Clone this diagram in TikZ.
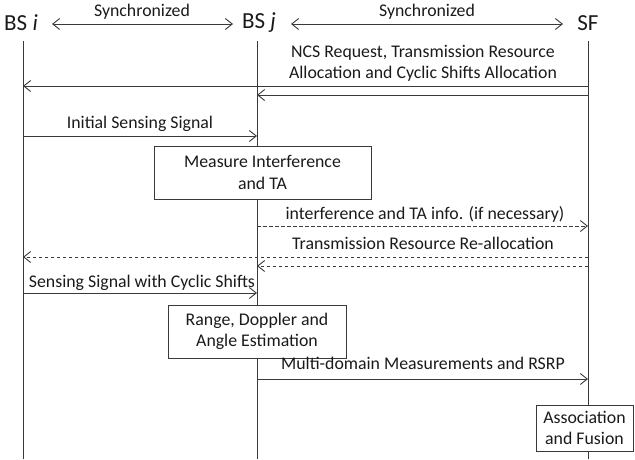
\documentclass[tikz,border=0pt]{standalone}
\usepackage{fontspec}
\setmainfont{Carlito}
\usetikzlibrary{arrows.meta}
\definecolor{ln}{HTML}{3A3A3A}
\definecolor{tx}{HTML}{1A1A1A}
\tikzset{
  life/.style={draw=ln, line width=0.9pt},
  msg/.style={draw=ln, line width=0.9pt, -{Straight Barb[length=7pt,width=11pt,line width=0.9pt]}},
  dmsg/.style={msg, dash pattern=on 3.5pt off 2.5pt},
  sync/.style={draw=ln, line width=0.9pt, {Straight Barb[length=7pt,width=11pt,line width=0.9pt]}-{Straight Barb[length=7pt,width=11pt,line width=0.9pt]}},
  lbl/.style={text=tx, font=\fontsize{17.8}{21.5}\selectfont, inner sep=0pt, align=center},
  head/.style={text=tx, font=\fontsize{23}{26}\selectfont, inner sep=0pt},
  procbox/.style={draw=ln, line width=0.9pt, fill=white, text=tx, font=\fontsize{17.8}{21.5}\selectfont, align=center, inner sep=0pt}
}
\begin{document}
\begin{tikzpicture}[x=1pt,y=-1pt]
\useasboundingbox (0,0) rectangle (635,459);
% headers
\node[head] (bsi) at (21,23) {BS \textit{i}};
\node[head] (bsj) at (259,23) {BS \textit{j}};
\node[head] (sf) at (588,23) {SF};
% lifelines
\coordinate (it) at (23,41); \coordinate (ib) at (23,459);
\coordinate (jt) at (257,41); \coordinate (jb) at (257,459);
\coordinate (st) at (588,41); \coordinate (sb) at (588,459);
\draw[life] (it) -- (ib);
\draw[life] (jt) -- (jb);
\draw[life] (st) -- (sb);
% synchronized
\coordinate (sa1) at (52,24); \coordinate (sa2) at (233,24);
\coordinate (sb1) at (291,24); \coordinate (sb2) at (563,24);
\draw[sync] (sa1) -- (sa2);
\draw[sync] (sb1) -- (sb2);
\node[lbl] (syn1) at (142,12) {Synchronized};
\node[lbl] (syn2) at (427,12) {Synchronized};
% NCS request
\node[lbl] (ncs) at (423,63.5) {NCS Request, Transmission Resource\\Allocation and Cyclic Shifts Allocation};
\coordinate (a1s) at (588,86); \coordinate (a1e) at (23,86);
\coordinate (a2s) at (588,95); \coordinate (a2e) at (257,95);
\draw[msg] (a1s) -- (a1e);
\draw[msg] (a2s) -- (a2e);
% initial sensing
\node[lbl] (iss) at (140,124) {Initial Sensing Signal};
\coordinate (b1s) at (23,136); \coordinate (b1e) at (257,136);
\draw[msg] (b1s) -- (b1e);
% measure box
\node[procbox, minimum width=217pt, minimum height=53pt] (mbox) at (262.5,172.5) {Measure Interference\\and TA};
% interference info
\node[lbl] (inf) at (425,214) {interference and TA info. (if necessary)};
\coordinate (c1s) at (257,226); \coordinate (c1e) at (588,226);
\draw[dmsg] (c1s) -- (c1e);
% re-allocation
\node[lbl] (rea) at (423,243) {Transmission Resource Re-allocation};
\coordinate (d1s) at (588,257); \coordinate (d1e) at (23,257);
\coordinate (d2s) at (588,266); \coordinate (d2e) at (257,266);
\draw[dmsg] (d1s) -- (d1e);
\draw[dmsg] (d2s) -- (d2e);
% cyclic shifts
\node[lbl] (ssc) at (142,283) {Sensing Signal with Cyclic Shifts};
\coordinate (e1s) at (23,293); \coordinate (e1e) at (257,293);
\draw[msg] (e1s) -- (e1e);
% estimation box
\node[procbox, minimum width=178pt, minimum height=53pt] (ebox) at (257,331.5) {Range, Doppler and\\Angle Estimation};
% multi-domain
\node[lbl] (mdm) at (423,363) {Multi-domain Measurements and RSRP};
\coordinate (f1s) at (257,379); \coordinate (f1e) at (588,379);
\draw[msg] (f1s) -- (f1e);
% association box
\node[procbox, minimum width=97pt, minimum height=46pt] (abox) at (584.5,428) {Association\\and Fusion};
\end{tikzpicture}
\end{document}
